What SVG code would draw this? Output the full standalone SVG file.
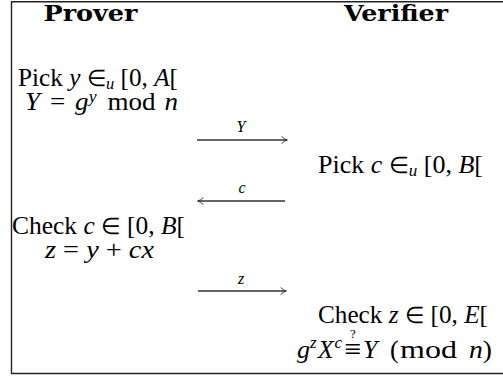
<svg xmlns="http://www.w3.org/2000/svg" width="503" height="376" viewBox="0 0 503 376">
<style>
text{font-family:"Liberation Serif","Times New Roman",serif;font-size:26px;fill:#000}
.b{font-family:"DejaVu Serif","Liberation Serif",serif;font-weight:bold;font-size:22px}
.i{font-style:italic}
.el{font-size:23px}
.sup{font-size:17px}
.lab{font-size:16px;font-style:italic}
.q{font-size:13px}
.eq{font-size:30px}
.frame{fill:none;stroke:#222;stroke-width:1.4}
.arr{stroke:#333;stroke-width:1.3;fill:none}
</style>
<defs>
<marker id="ah" viewBox="0 0 10 10" refX="9" refY="5" markerWidth="9" markerHeight="9" markerUnits="userSpaceOnUse" orient="auto">
<path d="M3,1 Q6,4.3 9.5,5 Q6,5.7 3,9" fill="none" stroke="#333" stroke-width="1.1"/>
</marker>
</defs>
<path class="frame" d="M503,1.7 H11.5 V373.5 H503"/>
<g id="prover-header"><text class="b" x="90.5" y="21" text-anchor="middle" textLength="94" lengthAdjust="spacingAndGlyphs">Prover</text></g>
<g id="verifier-header"><text class="b" x="396" y="21" text-anchor="middle" textLength="104" lengthAdjust="spacingAndGlyphs">Verifier</text></g>
<g id="prover-step1">
<text x="98" y="86" text-anchor="middle" textLength="160" lengthAdjust="spacingAndGlyphs">Pick <tspan class="i">y</tspan> <tspan class="el">∈</tspan><tspan class="sup i" dy="3">u</tspan><tspan dy="-3"> [0, </tspan><tspan class="i">A</tspan>[</text>
<text x="101.5" y="110" text-anchor="middle" textLength="153" lengthAdjust="spacingAndGlyphs"><tspan class="i">Y</tspan><tspan dx="3"> = </tspan><tspan class="i" dx="3">g</tspan><tspan class="sup i" dy="-8">y</tspan><tspan dy="8" dx="4"> mod </tspan><tspan class="i" dx="2">n</tspan></text>
</g>
<g id="verifier-step1">
<text x="400.5" y="173" text-anchor="middle" textLength="165" lengthAdjust="spacingAndGlyphs">Pick <tspan class="i">c</tspan> <tspan class="el">∈</tspan><tspan class="sup i" dy="3">u</tspan><tspan dy="-3"> [0, </tspan><tspan class="i">B</tspan>[</text>
</g>
<g id="prover-step2">
<text x="98.5" y="234" text-anchor="middle" textLength="173" lengthAdjust="spacingAndGlyphs">Check <tspan class="i">c</tspan> <tspan class="el">∈</tspan> [0, <tspan class="i">B</tspan>[</text>
<text x="99.5" y="258" text-anchor="middle" textLength="109" lengthAdjust="spacingAndGlyphs"><tspan class="i">z</tspan> = <tspan class="i">y</tspan> + <tspan class="i">cx</tspan></text>
</g>
<g id="verifier-step2">
<text x="403" y="323" text-anchor="middle" textLength="170" lengthAdjust="spacingAndGlyphs">Check <tspan class="i">z</tspan> <tspan class="el">∈</tspan> [0, <tspan class="i">E</tspan>[</text>
<text x="297" y="358"><tspan class="i">g</tspan><tspan class="sup i" dy="-10">z</tspan><tspan class="i" dy="10" dx="1">X</tspan><tspan class="sup i" dy="-10" dx="1">c</tspan></text>
<text class="eq" x="353" y="359" text-anchor="middle">≡</text>
<text class="q" x="353" y="338" text-anchor="middle">?</text>
<text x="363" y="358"><tspan class="i">Y</tspan></text>
<text x="390" y="358">(</text>
<text x="400" y="358" textLength="57" lengthAdjust="spacingAndGlyphs">mod</text>
<text x="469" y="358" textLength="23" lengthAdjust="spacingAndGlyphs"><tspan class="i">n</tspan>)</text>
</g>
<g id="connectors">
<line class="arr" x1="197" y1="140" x2="287" y2="140" marker-end="url(#ah)"/>
<text class="lab" x="241" y="132" text-anchor="middle">Y</text>
<line class="arr" x1="285" y1="201" x2="198" y2="201" marker-end="url(#ah)"/>
<text class="lab" x="242" y="193" text-anchor="middle">c</text>
<line class="arr" x1="198" y1="291" x2="286" y2="291" marker-end="url(#ah)"/>
<text class="lab" x="241" y="284" text-anchor="middle">z</text>
</g>
</svg>
